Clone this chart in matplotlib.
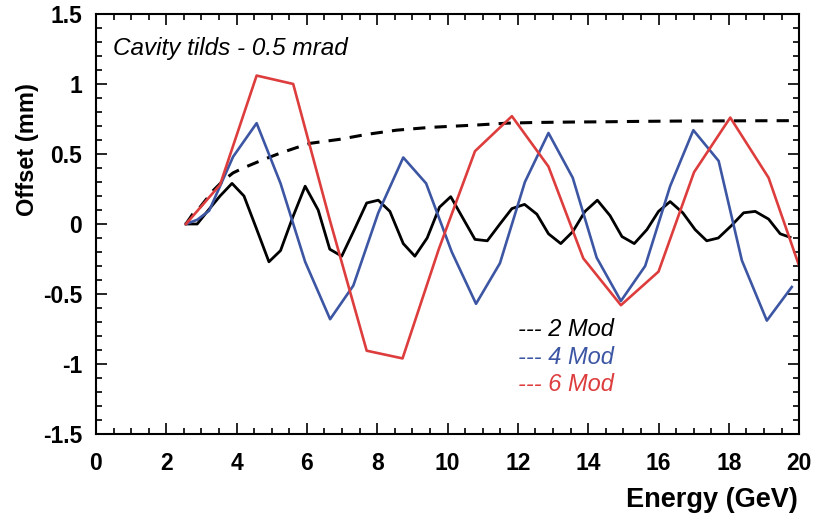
import matplotlib
matplotlib.use('Agg')
import matplotlib.pyplot as plt
import matplotlib.ticker as ticker

plt.rcParams['font.family'] = ['Liberation Sans', 'DejaVu Sans']

# 2 Mod (black)
x2 = [2.56, 2.88, 3.2, 3.53, 3.87, 4.21, 4.56, 4.92, 5.25, 5.6, 5.95, 6.32, 6.65, 6.99,
      7.35, 7.70, 8.03, 8.36, 8.74, 9.07, 9.42, 9.77, 10.09, 10.44, 10.78, 11.13, 11.49,
      11.83, 12.19, 12.54, 12.87, 13.22, 13.56, 13.91, 14.26, 14.62, 14.96, 15.31, 15.67,
      16.0, 16.33, 16.69, 17.04, 17.37, 17.7, 18.08, 18.42, 18.75, 19.13, 19.46, 19.74]
y2 = [0.0, 0.0, 0.1, 0.2, 0.29, 0.2, -0.03, -0.27, -0.19, 0.05, 0.27, 0.1, -0.18, -0.23,
      -0.04, 0.15, 0.17, 0.09, -0.14, -0.23, -0.10, 0.12, 0.195, 0.04, -0.11, -0.12, 0.0,
      0.11, 0.14, 0.07, -0.07, -0.14, -0.055, 0.09, 0.17, 0.06, -0.09, -0.14, -0.04,
      0.09, 0.16, 0.08, -0.04, -0.12, -0.10, -0.01, 0.08, 0.09, 0.035, -0.07, -0.095]

# 4 Mod (blue)
x4 = [2.56, 2.88, 3.22, 3.9, 4.57, 5.25, 5.95, 6.66, 7.32, 8.03, 8.74, 9.39, 10.12,
      10.81, 11.49, 12.2, 12.87, 13.56, 14.24, 14.93, 15.62, 16.33, 16.99, 17.71, 18.37,
      19.08, 19.79]
y4 = [0.0, 0.03, 0.095, 0.48, 0.72, 0.29, -0.27, -0.68, -0.44, 0.08, 0.475, 0.29, -0.2,
      -0.57, -0.28, 0.30, 0.65, 0.33, -0.24, -0.55, -0.30, 0.27, 0.67, 0.45, -0.26,
      -0.69, -0.45]

# 6 Mod (red)
x6 = [2.56, 3.53, 4.57, 5.61, 6.65, 7.70, 8.72, 9.75, 10.78, 11.83, 12.87, 13.86,
      14.93, 16.0, 17.01, 18.04, 19.13, 20.0]
y6 = [0.0, 0.28, 1.06, 1.0, 0.03, -0.905, -0.96, -0.18, 0.52, 0.77, 0.41, -0.245,
      -0.58, -0.34, 0.37, 0.76, 0.33, -0.3]

# envelope (dashed)
xe = [2.56, 2.75, 2.96, 3.15, 3.34, 3.62, 3.9, 4.19, 4.76, 5.23, 5.7, 6.09, 6.94, 7.70,
      8.55, 9.5, 10.83, 11.68, 12.5, 13.5, 14.53, 15.5, 16.5, 17.5, 18.5, 19.93]
ye = [0.0, 0.07, 0.12, 0.18, 0.24, 0.31, 0.365, 0.40, 0.46, 0.505, 0.545, 0.576, 0.605,
      0.64, 0.67, 0.69, 0.707, 0.72, 0.725, 0.728, 0.73, 0.733, 0.735, 0.736, 0.737,
      0.738]

red = '#dd3d3d'
blue = '#3c56a3'

fig = plt.figure(figsize=(8.13, 5.17), dpi=100)
ax = fig.add_axes([0.118, 0.1605, 0.865, 0.8125])

ax.plot(xe, ye, color='black', lw=2.2, dashes=(4, 3))
ax.plot(x2, y2, color='black', lw=2.0)
ax.plot(x4, y4, color=blue, lw=1.9)
ax.plot(x6, y6, color=red, lw=1.9)

ax.set_xlim(0, 20)
ax.set_ylim(-1.5, 1.5)
ax.xaxis.set_major_locator(ticker.MultipleLocator(2))
ax.xaxis.set_minor_locator(ticker.MultipleLocator(0.5))
ax.yaxis.set_major_locator(ticker.MultipleLocator(0.5))
ax.yaxis.set_minor_locator(ticker.MultipleLocator(0.1))
ax.yaxis.set_major_formatter(ticker.FuncFormatter(lambda v, p: ('%g' % v).replace('\u2212', '-')))
ax.xaxis.set_major_formatter(ticker.FuncFormatter(lambda v, p: '%g' % v))
ax.tick_params(which='both', direction='in', top=True, right=True, width=1.2)
ax.tick_params(which='major', length=8, labelsize=16.5)
ax.tick_params(axis='x', which='major', pad=13)
ax.tick_params(axis='y', which='major', pad=10)
ax.tick_params(which='minor', length=4)
for lab in ax.get_xticklabels() + ax.get_yticklabels():
    lab.set_fontweight('bold')
for s in ax.spines.values():
    s.set_linewidth(1.5)

fig.text(0.982, 0.033, 'Energy (GeV)', ha='right', va='center', fontsize=19.5, fontweight='bold')
fig.text(0.034, 0.71, 'Offset (mm)', ha='center', va='center', rotation=90,
         fontsize=17, fontweight='bold')

ax.text(0.024, 0.918, 'Cavity tilds - 0.5 mrad', transform=ax.transAxes, fontsize=17.5,
        style='italic', ha='left', va='center')

ax.text(0.6, 0.25, '--- 2 Mod', transform=ax.transAxes, fontsize=17, style='italic',
        color='black', ha='left', va='center')
ax.text(0.6, 0.183, '--- 4 Mod', transform=ax.transAxes, fontsize=17, style='italic',
        color=blue, ha='left', va='center')
ax.text(0.6, 0.117, '--- 6 Mod', transform=ax.transAxes, fontsize=17, style='italic',
        color=red, ha='left', va='center')

plt.savefig('out.png', dpi=100)
